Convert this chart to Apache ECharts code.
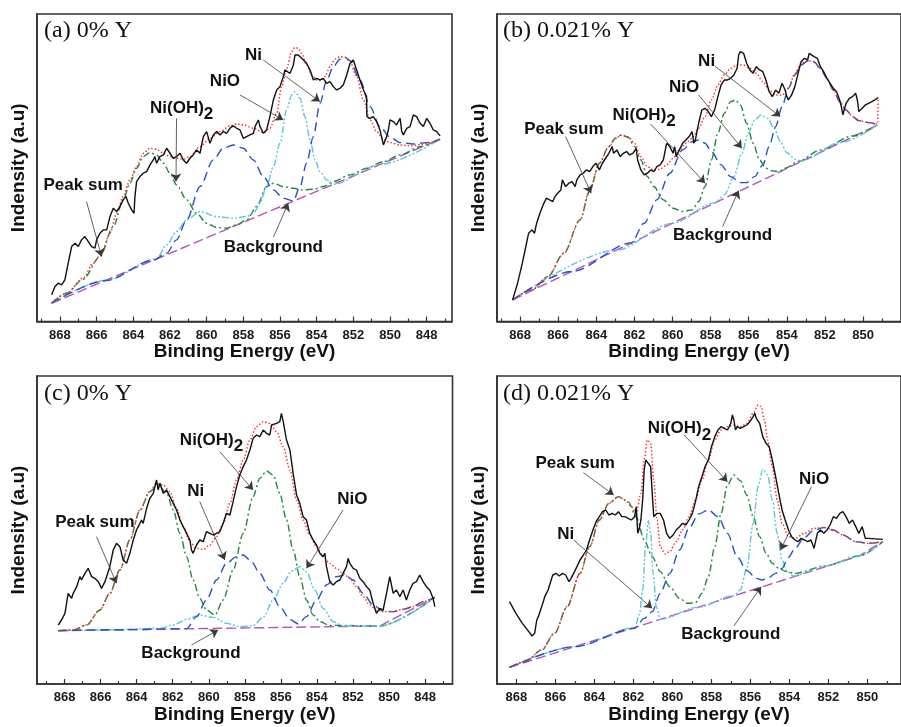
<!DOCTYPE html>
<html>
<head>
<meta charset="utf-8">
<script src="https://cdn.jsdelivr.net/npm/echarts@6/dist/echarts.min.js"></script>
<style>
  html, body { margin: 0; padding: 0; background: #ffffff; }
  #chart { width: 901px; height: 727px; }
</style>
</head>
<body>
<div id="chart"></div>
<script>
// Ni 2p3/2 XPS spectra: binding energy (eV) vs intensity (arbitrary units)

// ---- axis ticks ----
const TICKS_AC = [868, 866, 864, 862, 860, 858, 856, 854, 852, 850, 848];
const MINOR_AC = [869, 867, 865, 863, 861, 859, 857, 855, 853, 851, 849, 847];
const TICKS_BD = [868, 866, 864, 862, 860, 858, 856, 854, 852, 850];
const MINOR_BD = [869, 867, 865, 863, 861, 859, 857, 855, 853, 851, 849];

// ---- (a) 0% Y ----
const RAW_A = [[868.45,80],[868.27,105],[868.09,115],[867.91,110],[867.73,125],[867.55,175],[867.36,225],[867.18,235],[867.00,225],[866.82,245],[866.64,255],[866.45,240],[866.27,225],[866.09,220],[866.00,245],[865.82,265],[865.64,275],[865.45,275],[865.27,315],[865.09,340],[864.91,330],[864.73,345],[864.55,365],[864.40,375],[864.27,355],[864.09,335],[863.96,325],[863.91,375],[863.82,420],[863.64,435],[863.45,445],[863.27,450],[863.09,470],[862.91,485],[862.82,495],[862.73,475],[862.55,495],[862.36,500],[862.18,520],[862.00,505],[861.82,490],[861.64,495],[861.45,505],[861.27,485],[861.09,475],[860.91,490],[860.73,500],[860.55,515],[860.36,505],[860.18,555],[860.00,570],[859.82,535],[859.64,560],[859.45,570],[859.27,560],[859.09,570],[858.91,565],[858.73,580],[858.55,587],[858.36,580],[858.18,575],[858.00,550],[857.82,555],[857.64,560],[857.45,565],[857.36,585],[857.27,595],[857.18,605],[857.09,585],[856.91,565],[856.73,575],[856.64,595],[856.55,615],[856.36,665],[856.18,695],[856.00,705],[855.82,735],[855.73,755],[855.64,750],[855.45,745],[855.27,770],[855.18,800],[855.09,795],[855.00,800],[854.91,800],[854.82,790],[854.73,785],[854.55,775],[854.36,755],[854.18,725],[854.09,720],[854.00,730],[853.82,725],[853.64,730],[853.45,715],[853.27,720],[853.09,705],[852.91,695],[852.73,700],[852.55,710],[852.36,740],[852.18,775],[852.00,785],[851.91,780],[851.82,755],[851.64,725],[851.45,695],[851.28,675],[851.26,615],[851.09,610],[850.91,615],[850.73,600],[850.55,575],[850.36,530],[850.27,525],[850.18,555],[850.09,575],[850.00,605],[849.82,600],[849.64,590],[849.45,610],[849.36,570],[849.27,560],[849.18,570],[849.09,580],[848.91,585],[848.73,620],[848.55,615],[848.36,595],[848.18,585],[848.00,610],[847.82,595],[847.64,575],[847.45,570],[847.27,557]];
const SUM_A = [[868.45,55],[867.64,85],[866.73,130],[866.18,175],[865.73,205],[865.27,265],[864.91,325],[864.55,375],[864.18,425],[863.82,465],[863.45,505],[863.09,520],[862.73,517],[862.36,505],[862.00,495],[861.64,490],[861.27,487],[860.91,495],[860.36,525],[859.82,550],[859.27,570],[858.73,587],[858.36,593],[858.00,590],[857.45,580],[856.91,567],[856.55,580],[856.18,625],[855.91,705],[855.64,760],[855.36,810],[855.18,823],[855.00,820],[854.82,805],[854.55,770],[854.27,740],[854.00,725],[853.73,723],[853.55,735],[853.27,765],[853.00,787],[852.73,795],[852.45,793],[852.18,780],[851.82,735],[851.45,665],[851.09,605],[850.73,570],[850.36,547],[850.00,537],[849.45,530],[848.91,527],[848.36,531],[847.82,537],[847.27,547]];
const BG_A = [[868.45,55],[847.27,547]];
const NI_A = [[868.45,55],[865.50,123],[862.91,184],[862.18,205],[861.64,245],[861.09,305],[860.36,405],[859.64,485],[859.09,520],[858.55,530],[858.00,520],[857.45,485],[856.91,435],[856.36,395],[855.82,370],[855.27,362],[854.91,405],[854.55,475],[854.18,555],[853.82,655],[853.45,725],[853.09,765],[852.73,787],[852.45,793],[852.18,783],[851.64,725],[851.09,645],[850.55,585],[850.00,553],[849.45,537],[848.73,533],[848.00,537],[847.27,547]];
const NIO_A = [[868.45,55],[865.50,123],[862.73,188],[862.18,230],[861.64,270],[861.09,305],[860.36,330],[859.45,315],[858.55,310],[857.82,315],[857.45,325],[857.09,355],[856.73,405],[856.36,465],[856.00,535],[855.64,635],[855.36,680],[855.18,690],[854.91,670],[854.64,615],[854.36,545],[854.09,485],[853.82,450],[853.45,425],[853.09,412],[850.50,472],[847.27,547]];
const NIOH_A = [[868.45,55],[867.64,85],[866.73,127],[865.82,195],[865.09,285],[864.55,365],[864.18,415],[863.82,460],[863.45,495],[863.09,507],[862.73,500],[862.36,475],[862.00,445],[861.64,410],[861.09,365],[860.55,325],[860.00,295],[859.45,282],[858.91,280],[858.36,290],[857.82,305],[857.27,345],[856.73,405],[856.36,415],[855.82,405],[855.27,400],[854.73,395],[854.18,397],[853.64,405],[853.09,420],[852.18,440],[851.27,460],[850.36,480],[849.45,500],[848.36,525],[847.27,547]];
const NOTES_A = [[857.45,800,'Ni'],[859.0,720,'NiO'],[861.36,640,'Ni(OH)2'],[866.73,410,'Peak sum'],[856.36,223,'Background']];
const ARROWS_A = [[856.91,785,853.82,660],[858.18,680,855.82,605],[861.64,610,861.67,420],[866.55,360,865.73,195],[856.36,253,855.55,355]];

// ---- (b) 0.021% Y ----
const RAW_B = [[868.39,65],[868.13,115],[867.88,175],[867.55,265],[867.38,275],[867.24,265],[867.13,295],[866.96,325],[866.79,350],[866.62,370],[866.45,365],[866.28,360],[866.17,375],[866.03,385],[865.86,395],[865.78,425],[865.61,405],[865.44,415],[865.27,420],[865.11,405],[865.02,425],[864.85,440],[864.69,445],[864.52,455],[864.35,450],[864.18,465],[864.01,475],[863.84,455],[863.68,475],[863.51,490],[863.34,505],[863.17,525],[863.09,505],[862.92,515],[862.75,495],[862.58,505],[862.41,510],[862.25,500],[862.08,505],[861.91,520],[861.83,485],[861.66,455],[861.49,440],[861.32,445],[861.15,455],[860.98,450],[860.82,465],[860.65,470],[860.48,485],[860.31,535],[860.14,525],[859.97,505],[859.89,525],[859.81,495],[859.64,515],[859.47,535],[859.30,545],[859.13,555],[858.97,570],[858.88,535],[858.80,545],[858.63,595],[858.46,635],[858.29,640],[858.12,630],[857.96,615],[857.79,635],[857.62,675],[857.45,710],[857.28,725],[857.11,725],[856.95,730],[856.78,740],[856.61,760],[856.53,800],[856.44,810],[856.27,805],[856.19,790],[856.11,775],[855.94,755],[855.77,745],[855.60,765],[855.43,755],[855.26,750],[855.10,725],[854.93,690],[854.76,675],[854.59,695],[854.42,685],[854.25,715],[854.09,695],[854.00,675],[853.92,665],[853.75,680],[853.58,705],[853.41,745],[853.25,780],[853.08,790],[852.91,785],[852.83,805],[852.74,800],[852.57,795],[852.40,790],[852.24,765],[852.07,750],[851.90,730],[851.73,715],[851.56,700],[851.39,690],[851.23,665],[851.14,645],[851.06,620],[850.97,640],[850.89,655],[850.72,670],[850.55,675],[850.39,685],[850.30,665],[850.22,630],[850.05,640],[849.88,650],[849.71,655],[849.54,660],[849.38,665],[849.21,672]];
const SUM_B = [[868.39,65],[867.38,95],[866.54,135],[865.70,205],[864.85,305],[864.35,395],[863.84,475],[863.34,525],[863.00,550],[862.67,560],[862.33,555],[862.00,535],[861.66,495],[861.32,465],[860.98,455],[860.65,457],[860.31,470],[859.97,490],[859.64,515],[859.30,535],[858.97,550],[858.63,580],[858.29,615],[857.96,665],[857.62,710],[857.28,740],[856.95,760],[856.61,770],[856.27,770],[855.94,760],[855.60,745],[855.26,720],[854.93,695],[854.59,680],[854.25,680],[853.92,700],[853.58,745],[853.25,775],[852.91,783],[852.57,780],[852.24,760],[851.90,730],[851.56,695],[851.23,660],[850.89,635],[850.55,615],[850.22,603],[849.71,597],[849.24,593],[849.21,670]];
const BG_B = [[868.39,65],[849.24,590]];
const NI_B = [[868.39,65],[865.30,150],[862.16,236],[861.49,295],[860.82,365],[860.14,445],[859.47,515],[858.97,540],[858.63,545],[858.29,535],[857.96,510],[857.45,470],[856.95,435],[856.44,417],[856.11,417],[855.69,435],[855.26,470],[854.93,525],[854.59,585],[854.25,645],[853.92,700],[853.58,740],[853.25,770],[852.91,782],[852.57,779],[852.24,760],[851.90,730],[851.56,695],[851.23,660],[850.89,635],[850.55,615],[850.22,603],[849.71,597],[849.24,590]];
const NIO_B = [[868.39,65],[863.00,213],[860.00,295],[857.79,356],[857.28,380],[856.78,435],[856.36,505],[856.02,565],[855.69,605],[855.35,620],[855.01,610],[854.67,580],[854.34,540],[854.00,507],[853.58,487],[853.25,482],[851.20,537],[849.24,590]];
const NIOH_B = [[868.39,65],[867.38,95],[866.54,135],[865.70,205],[864.85,305],[864.35,390],[863.84,475],[863.34,525],[863.00,550],[862.67,560],[862.33,553],[862.00,525],[861.66,485],[861.32,435],[860.98,405],[860.48,365],[859.97,340],[859.47,330],[858.97,335],[858.63,360],[858.29,405],[857.96,485],[857.62,565],[857.28,625],[856.95,660],[856.69,665],[856.44,650],[856.11,595],[855.77,535],[855.43,485],[855.10,460],[854.76,452],[854.42,450],[854.09,460],[853.41,480],[852.24,515],[850.55,557],[849.24,590]];
const NOTES_B = [[865.70,577,'Peak sum'],[861.49,620,'Ni(OH)2'],[859.39,703,'NiO'],[858.21,780,'Ni'],[857.37,260,'Background']];
const ARROWS_B = [[865.61,555,864.27,385],[861.15,593,858.29,415],[858.63,680,856.36,520],[857.79,767,854.34,615],[857.37,285,856.53,393]];

// ---- (c) 0% Y ----
const RAW_C = [[868.35,177],[868.17,192],[867.98,212],[867.89,212],[867.80,272],[867.61,257],[867.52,272],[867.33,292],[867.15,322],[867.06,312],[866.87,332],[866.69,347],[866.50,322],[866.32,317],[866.13,307],[865.95,287],[865.76,307],[865.67,322],[865.49,352],[865.30,402],[865.12,422],[864.93,412],[864.75,372],[864.56,362],[864.38,392],[864.19,432],[864.01,462],[863.82,482],[863.73,492],[863.64,482],[863.45,527],[863.27,557],[863.08,572],[862.90,612],[862.81,582],[862.71,602],[862.53,572],[862.34,582],[862.16,562],[861.97,542],[861.79,522],[861.60,492],[861.42,472],[861.23,452],[861.05,432],[860.96,402],[860.87,392],[860.68,417],[860.50,432],[860.31,427],[860.13,457],[859.94,452],[859.76,447],[859.57,452],[859.39,457],[859.20,482],[859.02,512],[858.83,507],[858.65,547],[858.46,592],[858.28,627],[858.09,652],[857.91,672],[857.72,702],[857.54,737],[857.35,747],[857.17,742],[856.98,762],[856.80,752],[856.61,747],[856.52,777],[856.43,777],[856.24,782],[856.06,787],[855.97,812],[855.87,787],[855.69,732],[855.50,702],[855.32,632],[855.13,567],[854.95,542],[854.77,502],[854.58,492],[854.40,452],[854.21,432],[854.03,417],[853.84,392],[853.66,382],[853.56,392],[853.47,352],[853.29,307],[853.10,297],[852.92,307],[852.73,312],[852.55,332],[852.36,352],[852.27,377],[852.18,362],[851.99,347],[851.81,342],[851.62,317],[851.44,307],[851.25,292],[851.07,282],[850.88,242],[850.70,212],[850.51,227],[850.33,222],[850.14,272],[849.96,322],[849.77,272],[849.59,282],[849.40,262],[849.22,282],[849.04,252],[848.85,282],[848.67,302],[848.48,307],[848.30,327],[848.11,307],[847.93,292],[847.74,282],[847.56,257],[847.46,232]];
const SUM_C = [[868.35,160],[867.52,162],[866.78,177],[866.04,222],[865.49,272],[864.93,342],[864.38,432],[863.82,522],[863.27,577],[862.90,602],[862.53,597],[862.16,577],[861.79,527],[861.42,472],[861.05,427],[860.68,407],[860.31,404],[859.94,417],[859.57,442],[859.20,482],[858.83,542],[858.46,612],[858.09,672],[857.72,732],[857.35,772],[856.98,787],[856.61,782],[856.24,757],[855.87,712],[855.50,642],[855.13,552],[854.77,492],[854.40,447],[854.03,412],[853.66,382],[853.29,362],[852.92,347],[852.55,332],[852.18,317],[851.81,292],[851.44,262],[851.07,237],[850.70,222],[850.33,217],[849.77,217],[849.22,224],[848.67,232],[848.11,247],[847.46,262]];
const BG_C = [[868.35,160],[850.51,174],[847.46,260]];
const NI_C = [[868.35,160],[864.50,163],[861.23,166],[860.68,202],[860.13,252],[859.57,312],[859.02,362],[858.46,382],[858.09,387],[857.63,367],[857.17,332],[856.61,282],[856.06,232],[855.50,194],[855.04,180],[854.58,202],[854.03,252],[853.47,297],[852.92,322],[852.45,327],[851.99,312],[851.44,272],[850.88,237],[850.33,219],[849.77,217],[849.22,224],[848.67,232],[848.11,247],[847.46,260]];
const NIO_C = [[868.35,160],[865.50,162],[862.71,167],[861.97,177],[861.23,194],[860.50,207],[859.76,200],[859.02,182],[858.28,172],[857.54,175],[856.98,200],[856.43,252],[855.87,302],[855.41,339],[854.95,352],[854.58,337],[854.12,282],[853.66,227],[853.10,187],[852.55,174],[850.51,174],[847.46,260]];
const NIOH_C = [[868.35,160],[867.52,162],[866.78,177],[866.04,222],[865.49,272],[864.93,342],[864.38,432],[863.82,522],[863.27,577],[862.81,597],[862.34,572],[861.97,522],[861.60,452],[861.23,382],[860.87,312],[860.50,257],[860.13,222],[859.66,207],[859.20,252],[858.65,342],[858.09,452],[857.54,562],[857.17,617],[856.80,639],[856.43,627],[856.06,572],[855.69,492],[855.32,402],[854.95,322],[854.58,252],[854.21,207],[853.84,187],[853.29,176],[850.51,174],[847.46,260]];
const NOTES_C = [[866.32,484,'Peak sum'],[860.72,577,'Ni'],[859.85,732,'Ni(OH)2'],[852.03,554,'NiO'],[860.99,92,'Background']];
const ARROWS_C = [[866.23,442,865.12,302],[860.50,547,859.11,372],[859.39,697,857.54,582],[852.55,522,854.58,347],[860.96,117,859.48,162]];

// ---- (d) 0.021% Y ----
const RAW_D = [[868.35,247],[868.02,212],[867.69,182],[867.36,157],[867.19,144],[867.06,152],[866.95,192],[866.87,202],[866.70,232],[866.54,262],[866.37,282],[866.21,312],[866.13,327],[865.96,332],[865.80,324],[865.63,332],[865.47,327],[865.30,307],[865.19,317],[865.06,332],[864.89,352],[864.73,372],[864.56,387],[864.40,402],[864.24,432],[864.07,462],[863.91,487],[863.74,502],[863.58,517],[863.41,522],[863.25,507],[863.08,512],[862.92,507],[862.76,517],[862.59,502],[862.43,502],[862.26,497],[862.10,492],[861.93,502],[861.85,532],[861.77,452],[861.69,467],[861.61,492],[861.52,552],[861.44,642],[861.36,672],[861.28,674],[861.11,652],[861.03,572],[860.95,502],[860.78,512],[860.62,512],[860.45,492],[860.29,452],[860.13,437],[859.96,447],[859.80,462],[859.63,472],[859.47,482],[859.30,477],[859.14,492],[858.97,512],[858.81,547],[858.65,592],[858.48,622],[858.32,652],[858.15,672],[857.99,712],[857.82,742],[857.66,762],[857.50,772],[857.33,767],[857.17,762],[857.08,772],[857.00,782],[856.92,807],[856.84,792],[856.76,762],[856.67,772],[856.51,767],[856.34,772],[856.18,777],[856.02,787],[855.85,802],[855.77,812],[855.69,797],[855.52,782],[855.36,742],[855.19,722],[855.03,712],[854.87,672],[854.70,622],[854.54,572],[854.37,522],[854.21,492],[854.04,462],[853.88,442],[853.71,432],[853.55,427],[853.39,437],[853.22,432],[853.06,427],[852.89,432],[852.73,407],[852.56,452],[852.40,462],[852.23,452],[852.07,462],[851.91,477],[851.74,502],[851.58,497],[851.41,512],[851.25,517],[851.09,502],[850.92,482],[850.76,492],[850.59,472],[850.43,452],[850.26,472],[850.10,437],[849.94,437],[849.20,434]];
const SUM_D = [[868.35,50],[867.52,67],[866.70,102],[866.04,152],[865.39,232],[864.73,332],[864.24,412],[863.74,492],[863.25,542],[862.76,562],[862.43,552],[862.10,532],[861.85,512],[861.61,572],[861.44,672],[861.28,732],[861.11,722],[860.95,612],[860.78,492],[860.62,412],[860.37,390],[860.13,397],[859.80,427],[859.47,462],[859.14,502],[858.81,552],[858.48,612],[858.15,672],[857.82,732],[857.50,762],[857.17,772],[856.84,777],[856.51,772],[856.18,782],[855.85,812],[855.60,837],[855.44,832],[855.28,792],[855.11,732],[854.87,652],[854.62,552],[854.37,482],[854.04,442],[853.71,437],[853.22,452],[852.73,467],[852.23,470],[851.74,462],[851.25,447],[850.59,427],[849.94,422],[849.20,427]];
const BG_D = [[868.35,50],[850.43,384],[849.20,427]];
const NI_D = [[868.35,50],[865.00,112],[861.93,167],[861.44,197],[861.03,217],[860.62,272],[860.13,332],[859.63,402],[859.14,467],[858.65,510],[858.15,522],[857.66,502],[857.17,452],[856.67,382],[856.18,340],[855.69,317],[855.39,312],[855.11,317],[854.70,332],[854.37,347],[854.04,380],[853.71,407],[853.22,440],[852.73,462],[852.23,469],[851.74,462],[851.25,447],[850.59,427],[849.94,422],[849.20,427]];
const NIO_D = [[868.35,50],[865.00,112],[861.93,169],[861.69,207],[861.52,282],[861.36,422],[861.23,490],[861.11,452],[860.98,332],[860.82,232],[860.62,194],[858.70,230],[856.84,265],[856.51,282],[856.18,347],[855.85,482],[855.60,592],[855.36,644],[855.11,627],[854.87,552],[854.62,452],[854.37,372],[854.13,340],[853.80,324],[852.10,355],[850.43,384],[849.20,427]];
const NIOH_D = [[868.35,50],[867.52,67],[866.70,102],[866.04,152],[865.39,232],[864.73,332],[864.24,412],[863.74,492],[863.25,542],[862.76,562],[862.26,547],[861.85,502],[861.44,432],[861.03,382],[860.62,337],[860.13,292],[859.63,257],[859.22,242],[858.81,244],[858.48,272],[858.15,322],[857.82,412],[857.50,512],[857.17,597],[856.84,627],[856.51,610],[856.18,567],[855.85,502],[855.52,442],[855.19,392],[854.87,362],[854.54,347],[854.13,337],[853.71,332],[852.10,355],[850.43,384],[849.20,427]];
const NOTES_D = [[864.98,662,'Peak sum'],[865.47,449,'Ni'],[859.63,767,'Ni(OH)2'],[852.73,615,'NiO'],[857.00,150,'Background']];
const ARROWS_D = [[864.56,634,863.00,567],[865.06,432,861.03,227],[859.39,747,857.17,607],[852.86,592,854.45,402],[856.84,174,855.44,292]];

// ---- styling ----
const SANS = 'Liberation Sans';
const SERIF = 'Liberation Serif';
const INK = '#111111';
const FRAME = '#333333';

const panels = [
  { tag: '(a) 0% Y',     grid: { left: 37,  top: 14,  width: 415, height: 307.5 }, x: [846.62, 869.25], yMax: 923, ticks: TICKS_AC, minor: MINOR_AC,
    raw: RAW_A, sum: SUM_A, bg: BG_A, ni: NI_A, nio: NIO_A, nioh: NIOH_A, notes: NOTES_A, arrows: ARROWS_A, tagPos: [44, 19] },
  { tag: '(b) 0.021% Y', grid: { left: 497, top: 14,  width: 420, height: 307.5 }, x: [848.01, 869.21], yMax: 923, ticks: TICKS_BD, minor: MINOR_BD,
    raw: RAW_B, sum: SUM_B, bg: BG_B, ni: NI_B, nio: NIO_B, nioh: NIOH_B, notes: NOTES_B, arrows: ARROWS_B, tagPos: [503, 19] },
  { tag: '(c) 0% Y',     grid: { left: 37,  top: 376, width: 415.5, height: 308 }, x: [846.48, 869.53], yMax: 924, ticks: TICKS_AC, minor: MINOR_AC,
    raw: RAW_C, sum: SUM_C, bg: BG_C, ni: NI_C, nio: NIO_C, nioh: NIOH_C, notes: NOTES_C, arrows: ARROWS_C, tagPos: [44, 382] },
  { tag: '(d) 0.021% Y', grid: { left: 497, top: 376, width: 420, height: 308 },  x: [848.27, 868.99], yMax: 924, ticks: TICKS_BD, minor: MINOR_BD,
    raw: RAW_D, sum: SUM_D, bg: BG_D, ni: NI_D, nio: NIO_D, nioh: NIOH_D, notes: NOTES_D, arrows: ARROWS_D, tagPos: [503, 382] }
];

const option = {
  animation: false,
  backgroundColor: '#ffffff',
  title: [], grid: [], xAxis: [], yAxis: [], series: []
};

function curve(name, data, gi, color, dash, width, smooth, z) {
  return {
    type: 'line', name: name, data: data,
    xAxisIndex: gi * 2, yAxisIndex: gi,
    symbol: 'none', silent: true, z: z,
    smooth: smooth, smoothMonotone: 'x',
    lineStyle: { color: color, width: width, type: dash }
  };
}

panels.forEach(function (p, i) {
  option.title.push({
    text: p.tag, left: p.tagPos[0], top: p.tagPos[1], padding: 0,
    textStyle: { fontFamily: SERIF, fontSize: 24, fontWeight: 'normal', color: INK }
  });

  option.grid.push(Object.assign({
    show: true, borderColor: FRAME, borderWidth: 1.6, backgroundColor: 'transparent', containLabel: false
  }, p.grid));

  // major ticks + labels
  option.xAxis.push({
    gridIndex: i, type: 'value', inverse: true, position: 'bottom',
    min: p.x[0], max: p.x[1],
    name: 'Binding Energy (eV)', nameLocation: 'middle', nameGap: 21,
    nameTextStyle: { fontFamily: SANS, fontSize: 19, fontWeight: 'bold', color: INK },
    axisLine: { show: true, onZero: false, lineStyle: { color: FRAME, width: 1.6 } },
    axisTick: { show: true, inside: true, length: 5, customValues: p.ticks, lineStyle: { color: FRAME, width: 1.2 } },
    axisLabel: { show: true, customValues: p.ticks, margin: 7, fontFamily: SANS, fontSize: 13, fontWeight: 'bold', color: '#1a1a1a' },
    splitLine: { show: false }
  });
  // minor ticks at odd energies
  option.xAxis.push({
    gridIndex: i, type: 'value', inverse: true, position: 'bottom',
    min: p.x[0], max: p.x[1],
    axisLine: { show: false },
    axisTick: { show: true, inside: true, length: 3, customValues: p.minor, lineStyle: { color: FRAME, width: 1.2 } },
    axisLabel: { show: false },
    splitLine: { show: false }
  });

  option.yAxis.push({
    gridIndex: i, type: 'value', min: 0, max: p.yMax,
    name: 'Indensity (a.u)', nameLocation: 'middle', nameGap: 9, nameRotate: 90,
    nameTextStyle: { fontFamily: SANS, fontSize: 19, fontWeight: 'bold', color: INK },
    axisLine: { show: true, onZero: false, lineStyle: { color: FRAME, width: 1.6 } },
    axisTick: { show: false }, axisLabel: { show: false }, splitLine: { show: false }
  });

  option.series.push(curve('Background', p.bg, i, '#b94fc2', [10, 4], 1.4, false, 2));
  option.series.push(curve('Ni(OH)2', p.nioh, i, '#1e8a3c', [7, 3, 2, 3], 1.4, 0.3, 3));
  option.series.push(curve('NiO', p.nio, i, '#5cc6dc', [7, 2, 2, 2, 2, 2], 1.4, 0.3, 3));
  option.series.push(curve('Ni', p.ni, i, '#2352c4', [9, 5], 1.4, 0.3, 3));
  option.series.push(curve('Peak sum', p.sum, i, '#ff2a2a', [1.5, 2], 1.4, 0.3, 4));
  option.series.push(curve('Spectrum', p.raw, i, '#111111', 'solid', 1.4, false, 5));

  // pointer arrows from the annotations to their curves
  option.series.push({
    type: 'lines', coordinateSystem: 'cartesian2d', xAxisIndex: i * 2, yAxisIndex: i,
    silent: true, z: 6, symbol: ['none', 'arrow'], symbolSize: 8,
    lineStyle: { color: '#3a3a3a', width: 0.8, opacity: 1 },
    data: p.arrows.map(function (a) { return { coords: [[a[0], a[1]], [a[2], a[3]]] }; })
  });

  // annotation texts
  option.series.push({
    type: 'scatter', xAxisIndex: i * 2, yAxisIndex: i, silent: true, z: 7,
    symbolSize: 1, itemStyle: { color: 'rgba(0,0,0,0)' },
    data: p.notes.map(function (n) { return { value: [n[0], n[1]], name: n[2] }; }),
    label: {
      show: true, position: 'inside', color: INK, opacity: 1,
      textBorderWidth: 0, textBorderColor: 'transparent',
      formatter: function (q) {
        return q.name === 'Ni(OH)2' ? '{t|Ni(OH)}{s|2}' : '{t|' + q.name + '}';
      },
      rich: {
        t: { fontFamily: SANS, fontSize: 17, fontWeight: 'bold', color: INK, textBorderWidth: 0 },
        s: { fontFamily: SANS, fontSize: 17, fontWeight: 'bold', color: INK, textBorderWidth: 0, padding: [13, 0, 0, 0] }
      }
    },
    labelLayout: { hideOverlap: false }
  });
});

const chart = echarts.init(document.getElementById('chart'), null, { renderer: 'canvas' });
chart.setOption(option);
</script>
</body>
</html>
